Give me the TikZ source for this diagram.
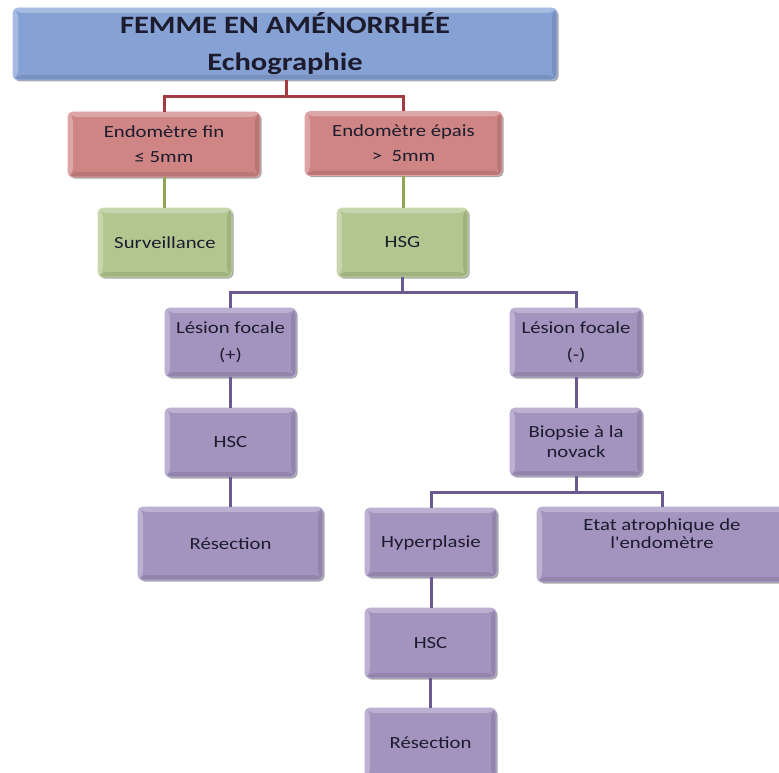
\documentclass[tikz,border=0pt]{standalone}
\usepackage{fontspec}
\setmainfont{Carlito}[FakeStretch=1.22, Ligatures=TeXOff]
\usetikzlibrary{shadows}
\definecolor{bluefill}{HTML}{86A2D5}
\definecolor{blueedge}{HTML}{A6BFEC}
\definecolor{redfill}{HTML}{CE8584}
\definecolor{rededge}{HTML}{E6A2A2}
\definecolor{greenfill}{HTML}{B2C78F}
\definecolor{greenedge}{HTML}{CCDDAA}
\definecolor{purpfill}{HTML}{A394BF}
\definecolor{purpedge}{HTML}{BBADD8}
\definecolor{redline}{HTML}{A23B42}
\definecolor{greenline}{HTML}{8EA553}
\definecolor{purpline}{HTML}{6B5A8F}
\definecolor{txt}{HTML}{1C1C2E}
\newcommand\bevelpp{%
  \fill[white,opacity=.28] (path picture bounding box.north west) -- (path picture bounding box.north east)
    -- ([xshift=-5pt,yshift=-5pt]path picture bounding box.north east) -- ([xshift=5pt,yshift=-5pt]path picture bounding box.north west) -- cycle;
  \fill[white,opacity=.28] (path picture bounding box.north west) -- (path picture bounding box.south west)
    -- ([xshift=5pt,yshift=5pt]path picture bounding box.south west) -- ([xshift=5pt,yshift=-5pt]path picture bounding box.north west) -- cycle;
  \fill[black,opacity=.10] (path picture bounding box.south west) -- (path picture bounding box.south east)
    -- ([xshift=-5pt,yshift=5pt]path picture bounding box.south east) -- ([xshift=5pt,yshift=5pt]path picture bounding box.south west) -- cycle;
  \fill[black,opacity=.10] (path picture bounding box.north east) -- (path picture bounding box.south east)
    -- ([xshift=-5pt,yshift=5pt]path picture bounding box.south east) -- ([xshift=-5pt,yshift=-5pt]path picture bounding box.north east) -- cycle;
}
\tikzset{
  box/.style={rounded corners=5pt, inner sep=0pt, align=center, text=txt,
    line width=0.8pt, font=\fontsize{17}{25}\selectfont,
    drop shadow={shadow xshift=1.5pt, shadow yshift=-1.5pt, opacity=.35, fill=black},
    path picture={\bevelpp}},
  bluebox/.style={box, fill=bluefill, draw=blueedge},
  redbox/.style={box, fill=redfill, draw=rededge},
  greenbox/.style={box, fill=greenfill, draw=greenedge},
  purpbox/.style={box, fill=purpfill, draw=purpedge},
  conn/.style={line width=3pt},
  rconn/.style={conn, draw=redline},
  gconn/.style={conn, draw=greenline},
  pconn/.style={conn, draw=purpline}
}
\begin{document}
\begin{tikzpicture}[x=1pt,y=-1pt]
\useasboundingbox (0,0) rectangle (779,773);
% nodes
\node[bluebox, minimum width=544pt, minimum height=72pt, font=\bfseries\fontsize{25}{37}\selectfont] (top) at (285,44) {FEMME EN AMÉNORRHÉE\\Echographie};
\node[redbox, minimum width=192pt, minimum height=65pt] (fin) at (164,144.5) {Endomètre fin\\≤ 5mm};
\node[redbox, minimum width=197pt, minimum height=64pt] (epais) at (403.5,143.5) {Endomètre épais\\>\ \ 5mm};
\node[greenbox, minimum width=134pt, minimum height=69pt] (surv) at (165,242.5) {Surveillance};
\node[greenbox, minimum width=131pt, minimum height=69pt] (hsg) at (402.5,242.5) {HSG};
\node[purpbox, minimum width=131pt, minimum height=69pt, font=\fontsize{17}{27}\selectfont] (lesp) at (230.5,342.5) {Lésion focale\\(+)};
\node[purpbox, minimum width=132pt, minimum height=69pt, font=\fontsize{17}{27}\selectfont] (lesm) at (576,342.5) {Lésion focale\\(-)};
\node[purpbox, minimum width=131pt, minimum height=69pt] (hsca) at (230.5,442.5) {HSC};
\node[purpbox, minimum width=132pt, minimum height=68pt, font=\fontsize{17}{20}\selectfont] (bio) at (576,442) {Biopsie à la\\novack};
\node[purpbox, minimum width=185pt, minimum height=73pt] (resa) at (230.5,543.5) {Résection};
\node[purpbox, minimum width=132pt, minimum height=69pt] (hyp) at (431,542.5) {Hyperplasie};
\node[purpbox, minimum width=250pt, minimum height=75pt] (etat) at (662,544.5) {};
\node[text=txt, align=center, font=\fontsize{17}{17.5}\selectfont, anchor=north, inner sep=0pt] (etattxt) at (662,518.5) {Etat atrophique de\\l'endomètre};
\node[purpbox, minimum width=131pt, minimum height=70pt] (hscb) at (430.5,643) {HSC};
\node[purpbox, minimum width=131pt, minimum height=70pt] (resb) at (430.5,743) {Résection};
% connectors
\draw[rconn] (top.south -| 286,0) -- (286,97) -| (fin.north);
\draw[rconn] (286,97) -| (epais.north);
\draw[gconn] (fin.south) -- (surv.north -| fin.south);
\draw[gconn] (epais.south) -- (hsg.north -| epais.south);
\draw[pconn] (hsg.south) -- (402.5,292.5) -| (lesp.north);
\draw[pconn] (402.5,292.5) -| (lesm.north);
\draw[pconn] (lesp.south) -- (hsca.north);
\draw[pconn] (hsca.south) -- (resa.north);
\draw[pconn] (lesm.south) -- (bio.north);
\draw[pconn] (bio.south) -- (576,492) -| (hyp.north);
\draw[pconn] (576,492) -| (etat.north);
\draw[pconn] (hyp.south) -- (hscb.north -| hyp.south);
\draw[pconn] (hscb.south) -- (resb.north);
\end{tikzpicture}
\end{document}
